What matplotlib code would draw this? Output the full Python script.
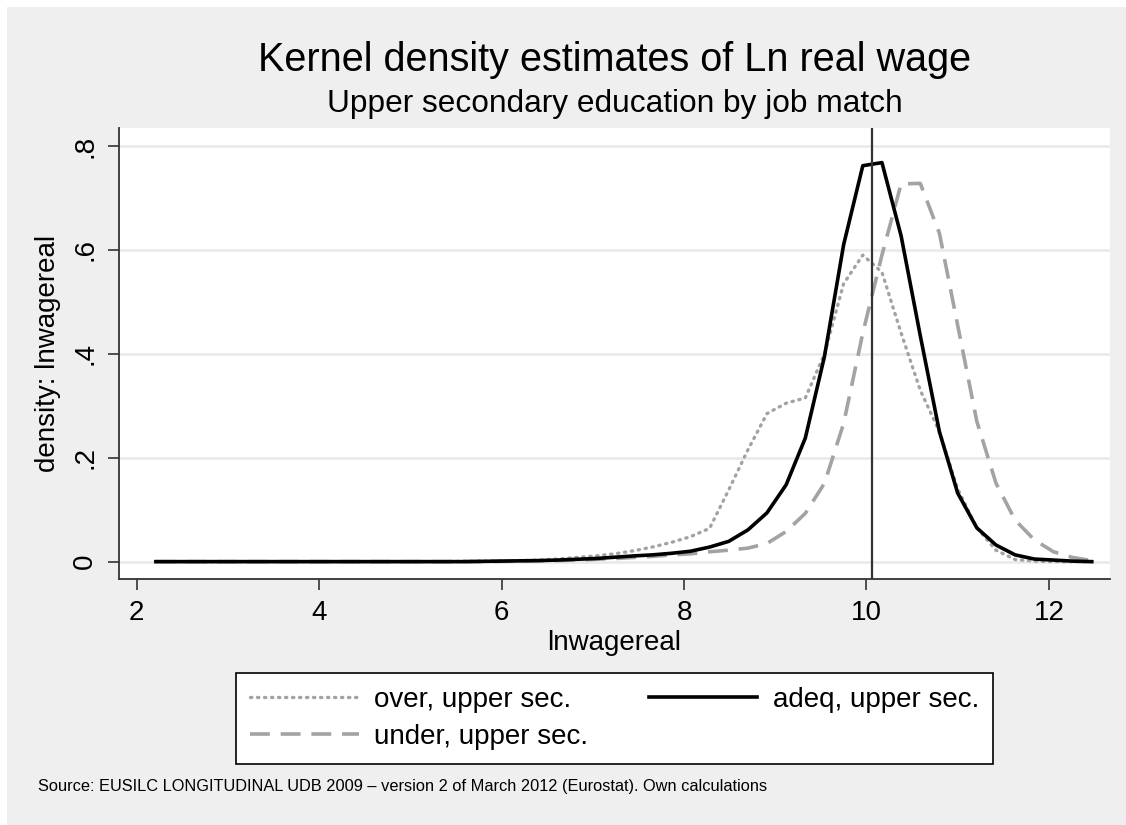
import matplotlib
matplotlib.use("Agg")
import matplotlib.pyplot as plt
from matplotlib.patches import Rectangle

# Evaluation grid (50 kdensity points)
x_grid = [2.21, 2.42, 2.63, 2.84, 3.05, 3.26, 3.47, 3.68, 3.89, 4.09,
          4.30, 4.51, 4.72, 4.93, 5.14, 5.35, 5.56, 5.77, 5.98, 6.19,
          6.40, 6.61, 6.82, 7.03, 7.24, 7.45, 7.65, 7.86, 8.07, 8.28,
          8.49, 8.70, 8.91, 9.12, 9.33, 9.54, 9.75, 9.96, 10.17, 10.38,
          10.59, 10.80, 11.00, 11.21, 11.42, 11.63, 11.84, 12.05, 12.26, 12.47]

dens_over = [0, 0, 0, 0, 0, 0, 0, 0, 0, 0,
             0, 0, 0, 0, 0, 0, 0.0005, 0.001, 0.0015, 0.002,
             0.003, 0.005, 0.008, 0.011, 0.015, 0.021, 0.028, 0.037, 0.048, 0.064,
             0.138, 0.215, 0.285, 0.305, 0.315, 0.400, 0.535, 0.590, 0.557, 0.440,
             0.330, 0.250, 0.140, 0.065, 0.022, 0.004, 0.001, 0, 0, 0]

dens_adeq = [0, 0, 0, 0, 0, 0, 0, 0, 0, 0,
             0, 0, 0, 0, 0, 0, 0, 0.0005, 0.001, 0.0015,
             0.002, 0.003, 0.0045, 0.006, 0.0085, 0.011, 0.013, 0.016, 0.020, 0.028,
             0.039, 0.061, 0.094, 0.148, 0.238, 0.395, 0.610, 0.762, 0.768, 0.627,
             0.435, 0.250, 0.132, 0.065, 0.032, 0.013, 0.005, 0.003, 0.001, 0.0]

dens_under = [0, 0, 0, 0, 0, 0, 0, 0, 0, 0,
              0, 0, 0, 0, 0, 0, 0, 0, 0.0005, 0.001,
              0.0015, 0.002, 0.003, 0.0045, 0.006, 0.008, 0.010, 0.013, 0.015, 0.019,
              0.022, 0.026, 0.035, 0.058, 0.093, 0.151, 0.266, 0.440, 0.590, 0.727,
              0.728, 0.632, 0.455, 0.270, 0.151, 0.080, 0.042, 0.019, 0.008, 0.002]

vline_x = 10.06

series_labels = ["over, upper sec.", "adeq, upper sec.", "under, upper sec."]
x_ticks = [2, 4, 6, 8, 10, 12]
y_ticks = [0, 0.2, 0.4, 0.6, 0.8]
y_ticklabels = ["0", ".2", ".4", ".6", ".8"]

title = "Kernel density estimates of Ln real wage"
subtitle = "Upper secondary education by job match"
note = "Source: EUSILC LONGITUDINAL UDB 2009 \u2013 version 2 of March 2012 (Eurostat). Own calculations"

plt.rcParams['font.family'] = ['Liberation Sans', 'DejaVu Sans']

W, H = 1126, 825
fig = plt.figure(figsize=(W / 100, H / 100), dpi=100)
bg = "#efefef"
fig.patch.set_facecolor("white")
# gray graph region with a thin white margin at the top and left
fig.patches.append(Rectangle((7 / W, 0), 1 - 7 / W, 1 - 7 / H, transform=fig.transFigure,
                             facecolor=bg, edgecolor="none", zorder=-10))

ax = fig.add_axes([119 / W, 1 - 579.3 / H, (1110 - 119) / W, (579.3 - 128.3) / H])
ax.set_facecolor("white")

ax.set_xlim(1.806, 12.67)
ax.set_ylim(-0.034, 0.834)

for yt in y_ticks:
    ax.axhline(yt, color="#eaeaea", lw=2.0, zorder=0)

gray = "#a3a3a3"
l_over, = ax.plot(x_grid, dens_over, color=gray, lw=2.4, linestyle=(0, (0.4, 1.7)),
                  dash_capstyle="round", label=series_labels[0], zorder=3)
l_adeq, = ax.plot(x_grid, dens_adeq, color="black", lw=2.6, linestyle="-",
                  label=series_labels[1], zorder=4)
l_under, = ax.plot(x_grid, dens_under, color=gray, lw=2.6, linestyle=(0, (5.5, 3)),
                   label=series_labels[2], zorder=3)
ax.axvline(vline_x, color="#333333", lw=1.6, zorder=5)

for side in ["top", "right"]:
    ax.spines[side].set_visible(False)
for side in ["left", "bottom"]:
    ax.spines[side].set_color("#333333")
    ax.spines[side].set_linewidth(1.3)

ax.set_xticks(x_ticks)
ax.set_xticklabels([str(t) for t in x_ticks], fontsize=20)
ax.set_yticks(y_ticks)
ax.set_yticklabels(y_ticklabels, fontsize=20, rotation=90, va="center", ha="right")
ax.tick_params(axis="both", direction="out", length=8, width=1.2, color="#333333", pad=7)

ax.set_xlabel("lnwagereal", fontsize=20, labelpad=3)
ax.set_ylabel("density: lnwagereal", fontsize=20, labelpad=8)

fig.text(614.5 / W, 1 - 60 / H, title, fontsize=28.5, ha="center", va="center")
fig.text(614.5 / W, 1 - 104 / H, subtitle, fontsize=22.8, ha="center", va="center")
fig.text(38 / W, 1 - 787 / H, note, fontsize=11.8, ha="left", va="center")

# column-major fill: col1 = over, under ; col2 = adeq
leg = fig.legend([l_over, l_under, l_adeq],
                 [series_labels[0], series_labels[2], series_labels[1]],
                 loc="center", bbox_to_anchor=(614.5 / W, 1 - 718.5 / H),
                 ncol=2, fontsize=20, frameon=True, fancybox=False,
                 edgecolor="black", facecolor="white", framealpha=1,
                 handlelength=3.9, handletextpad=0.55, columnspacing=2.2,
                 borderpad=0.5, labelspacing=0.4)
leg.get_frame().set_linewidth(1.2)

fig.savefig("out.png", dpi=100, facecolor="white")
